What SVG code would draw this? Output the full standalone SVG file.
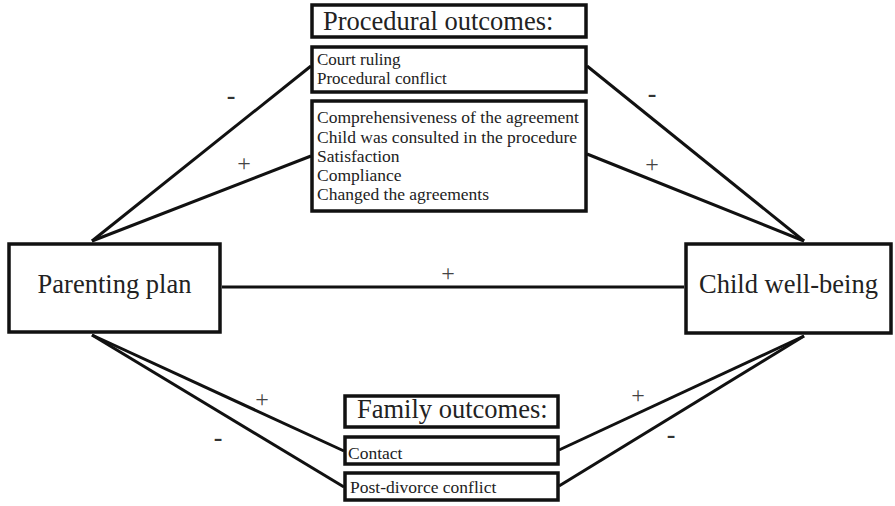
<svg xmlns="http://www.w3.org/2000/svg" width="895" height="506" viewBox="0 0 895 506">
<style>
.box{fill:#fff;stroke:#111;stroke-width:3.5}
.ln{stroke:#111;stroke-width:3;fill:none}
.big{font-family:"Liberation Serif","Times New Roman",serif;font-size:26.5px;fill:#222}
.sm{font-family:"Liberation Serif","Times New Roman",serif;font-size:17.5px;fill:#222}
.sm2{font-family:"Liberation Serif","Times New Roman",serif;font-size:17px;fill:#222}
.plus{font-family:"Liberation Serif","Times New Roman",serif;font-size:24px;fill:#444;text-anchor:middle}
.minus{font-family:"Liberation Serif","Times New Roman",serif;font-size:26px;font-weight:bold;fill:#333;text-anchor:middle}
</style>
<rect width="895" height="506" fill="#fff"/>
<g id="connectors">
<line class="ln" x1="92" y1="241" x2="311" y2="66"/>
<line class="ln" x1="92" y1="241" x2="311" y2="156"/>
<line class="ln" x1="587" y1="66" x2="804" y2="241"/>
<line class="ln" x1="587" y1="154" x2="804" y2="241"/>
<line class="ln" x1="222" y1="287" x2="684" y2="287"/>
<line class="ln" x1="92" y1="335" x2="344" y2="451"/>
<line class="ln" x1="92" y1="335" x2="344" y2="487"/>
<line class="ln" x1="559" y1="450" x2="804" y2="336"/>
<line class="ln" x1="559" y1="486" x2="804" y2="336"/>
</g>
<g id="labels">
<text class="minus" x="231" y="104">-</text>
<text class="plus" x="244" y="171">+</text>
<text class="minus" x="652" y="102">-</text>
<text class="plus" x="652" y="172">+</text>
<text class="plus" x="448" y="281">+</text>
<text class="plus" x="262" y="407">+</text>
<text class="minus" x="218" y="446">-</text>
<text class="plus" x="638" y="403">+</text>
<text class="minus" x="671" y="443">-</text>
</g>
<g id="procedural-title">
<rect class="box" x="312" y="5" width="274" height="32"/>
<text class="big" x="323" y="30">Procedural outcomes:</text>
</g>
<g id="procedural-negative">
<rect class="box" x="312" y="47" width="274" height="45"/>
<text class="sm2" x="317" y="65">Court ruling</text>
<text class="sm2" x="317" y="84">Procedural conflict</text>
</g>
<g id="procedural-positive">
<rect class="box" x="312" y="101" width="274" height="110"/>
<text class="sm" x="317" y="123">Comprehensiveness of the agreement</text>
<text class="sm" x="317" y="143">Child was consulted in the procedure</text>
<text class="sm" x="317" y="162">Satisfaction</text>
<text class="sm" x="317" y="181">Compliance</text>
<text class="sm" x="317" y="200">Changed the agreements</text>
</g>
<g id="parenting-plan">
<rect class="box" x="9" y="244" width="211" height="88"/>
<text class="big" x="114.5" y="293" text-anchor="middle">Parenting plan</text>
</g>
<g id="child-well-being">
<rect class="box" x="686" y="244" width="205" height="89"/>
<text class="big" x="788.5" y="293" text-anchor="middle">Child well-being</text>
</g>
<g id="family-title">
<rect class="box" x="345" y="396" width="213" height="31"/>
<text class="big" x="357" y="418">Family outcomes:</text>
</g>
<g id="family-contact">
<rect class="box" x="345" y="437" width="213" height="27"/>
<text class="sm" x="348" y="459">Contact</text>
</g>
<g id="family-conflict">
<rect class="box" x="345" y="473" width="213" height="27"/>
<text class="sm" x="350" y="493">Post-divorce conflict</text>
</g>
</svg>
